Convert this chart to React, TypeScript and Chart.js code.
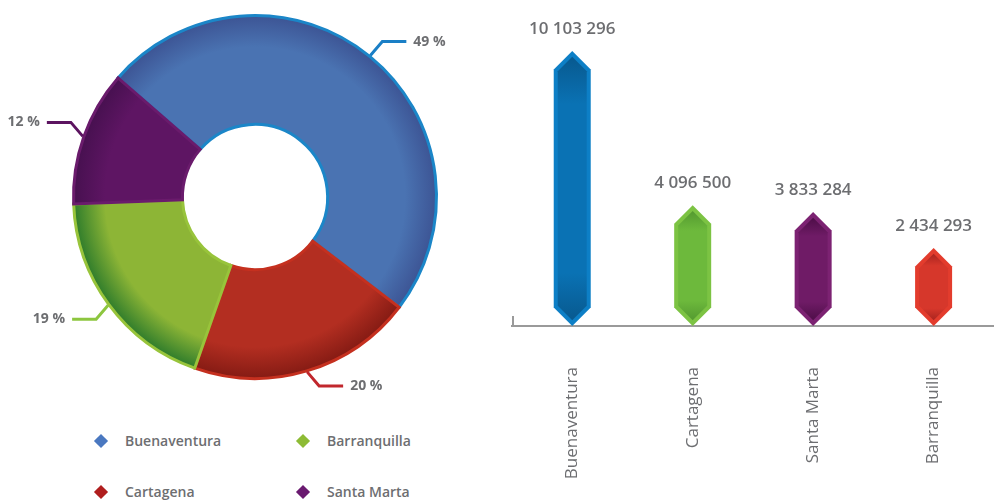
import React, { useEffect, useRef } from 'react';
import { Chart, registerables } from 'chart.js';

Chart.register(...registerables);

// ---- Donut data (share of total) ----
const shareLabels = ['Buenaventura', 'Cartagena', 'Barranquilla', 'Santa Marta'];
const shareValues = [49, 20, 19, 12];
const shareFill = ['#4a73b2', '#b32e21', '#8db536', '#5e1563'];
const shareShade = ['#3c5393', '#831a13', '#2b7a2b', '#46104f'];
const shareBorder = ['#1b86c8', '#c5301f', '#98c43b', '#6a1b6c'];
const shareLine = ['#1a7fc6', '#c1272d', '#8dc63f', '#5c1460'];

// ---- Legend (2 x 2 grid order) ----
const legendLabels = ['Buenaventura', 'Barranquilla', 'Cartagena', 'Santa Marta'];
const legendColors = ['#4a78c0', '#8dbb35', '#b01e1e', '#6a1a70'];

// ---- Bar data ----
const portLabels = ['Buenaventura', 'Cartagena', 'Santa Marta', 'Barranquilla'];
const portValues = [10103296, 4096500, 3833284, 2434293];
const portEdge = ['#0d7fc6', '#7cc343', '#7c2272', '#e33c2d'];
const portBody = ['#0a72b4', '#6db93c', '#6f1b66', '#d6372b'];
const portDark = ['#08598f', '#549a30', '#4e0e48', '#a9241f'];

const TEXT = '#6d6e71';
const FONT = "'Open Sans', 'Noto Sans', sans-serif";

const fmt = (v: number) => String(v).replace(/\B(?=(\d{3})+(?!\d))/g, ' ');

const donutLabelsPlugin = {
  id: 'donutLabels',
  afterDatasetsDraw(chart: any) {
    const ctx = chart.ctx;
    const meta = chart.getDatasetMeta(0);
    ctx.save();
    meta.data.forEach((arc: any, i: number) => {
      const p = arc.getProps(['x', 'y', 'startAngle', 'endAngle', 'outerRadius'], true);
      const mid = (p.startAngle + p.endAngle) / 2;
      const c = Math.cos(mid);
      const s = Math.sin(mid);
      const sx = c >= 0 ? 1 : -1;
      const sy = s >= 0 ? 1 : -1;
      const x0 = p.x + c * (p.outerRadius + 1);
      const y0 = p.y + s * (p.outerRadius + 1);
      const x1 = x0 + sx * 12;
      const y1 = y0 + sy * 14;
      const x2 = x1 + sx * 24;
      ctx.strokeStyle = shareLine[i];
      ctx.lineWidth = 3;
      ctx.lineJoin = 'miter';
      ctx.beginPath();
      ctx.moveTo(x0, y0);
      ctx.lineTo(x1, y1);
      ctx.lineTo(x2, y1);
      ctx.stroke();
      ctx.fillStyle = TEXT;
      ctx.font = `700 14px ${FONT}`;
      ctx.textBaseline = 'middle';
      ctx.textAlign = sx > 0 ? 'left' : 'right';
      ctx.fillText(`${shareValues[i]} %`, x2 + sx * 7, y1);
    });
    ctx.restore();
  },
};

function hexPath(ctx: CanvasRenderingContext2D, x: number, top: number, bottom: number, half: number) {
  const tip = Math.min(half, (bottom - top) / 2);
  ctx.beginPath();
  ctx.moveTo(x, top);
  ctx.lineTo(x + half, top + tip);
  ctx.lineTo(x + half, bottom - tip);
  ctx.lineTo(x, bottom);
  ctx.lineTo(x - half, bottom - tip);
  ctx.lineTo(x - half, top + tip);
  ctx.closePath();
}

const hexBarsPlugin = {
  id: 'hexBars',
  afterDatasetsDraw(chart: any) {
    const ctx = chart.ctx;
    const meta = chart.getDatasetMeta(0);
    const area = chart.chartArea;
    ctx.save();
    // small axis stub at left
    ctx.strokeStyle = '#9a9a9a';
    ctx.lineWidth = 2;
    ctx.beginPath();
    ctx.moveTo(area.left + 1, area.bottom - 10);
    ctx.lineTo(area.left + 1, area.bottom);
    ctx.stroke();
    meta.data.forEach((el: any, i: number) => {
      const p = el.getProps(['x', 'y', 'base', 'width'], true);
      const half = p.width / 2;
      const top = p.y;
      const bottom = p.base;
      hexPath(ctx, p.x, top, bottom, half);
      ctx.fillStyle = portEdge[i];
      ctx.fill();
      const inset = 4;
      const itop = top + inset * 1.41;
      const ibot = bottom - inset * 1.41;
      const g = ctx.createLinearGradient(0, itop, 0, ibot);
      g.addColorStop(0, portDark[i]);
      g.addColorStop(0.18, portBody[i]);
      g.addColorStop(0.82, portBody[i]);
      g.addColorStop(1, portDark[i]);
      hexPath(ctx, p.x, itop, ibot, half - inset);
      ctx.fillStyle = g;
      ctx.fill();
      ctx.fillStyle = TEXT;
      ctx.font = `600 17px ${FONT}`;
      ctx.textAlign = 'center';
      ctx.textBaseline = 'middle';
      ctx.fillText(fmt(portValues[i]), p.x, top - 22);
    });
    ctx.restore();
  },
};

function Donut() {
  const ref = useRef<HTMLCanvasElement>(null);
  useEffect(() => {
    const chart = new Chart(ref.current!, {
      type: 'doughnut',
      data: {
        labels: shareLabels,
        datasets: [
          {
            data: shareValues,
            backgroundColor: (c: any) => {
              const i = c.dataIndex ?? 0;
              const area = c.chart.chartArea;
              if (!area) return shareFill[i];
              const cx = (area.left + area.right) / 2;
              const cy = (area.top + area.bottom) / 2;
              const R = Math.min(area.width, area.height) / 2;
              const g = c.chart.ctx.createRadialGradient(cx, cy, R * 0.4, cx, cy, R);
              g.addColorStop(0, shareFill[i]);
              g.addColorStop(0.7, shareFill[i]);
              g.addColorStop(1, shareShade[i]);
              return g;
            },
            borderColor: shareBorder,
            borderWidth: 3,
            borderJoinStyle: 'miter',
          } as any,
        ],
      },
      options: {
        responsive: false,
        animation: false,
        rotation: -49,
        cutout: '40%',
        layout: { padding: { left: 72, top: 14, right: 62, bottom: 20 } },
        plugins: { legend: { display: false }, tooltip: { enabled: false } },
      },
      plugins: [donutLabelsPlugin],
    });
    return () => chart.destroy();
  }, []);
  return (
    <canvas
      ref={ref}
      width={500}
      height={400}
      style={{ position: 'absolute', left: 0, top: 0, width: 500, height: 400 }}
    />
  );
}

function Bars() {
  const ref = useRef<HTMLCanvasElement>(null);
  useEffect(() => {
    const chart = new Chart(ref.current!, {
      type: 'bar',
      data: {
        labels: portLabels,
        datasets: [
          {
            data: portValues,
            base: -600000,
            backgroundColor: 'rgba(0,0,0,0)',
            borderWidth: 0,
            barThickness: 37,
          } as any,
        ],
      },
      options: {
        responsive: false,
        animation: false,
        layout: { padding: { left: 12, right: 0, top: 28, bottom: 0 } },
        plugins: { legend: { display: false }, tooltip: { enabled: false } },
        scales: {
          x: {
            grid: { display: false, drawTicks: false },
            border: { display: true, color: '#9a9a9a', width: 2 },
            ticks: {
              color: TEXT,
              font: { family: FONT, size: 17 },
              minRotation: 90,
              maxRotation: 90,
              padding: 41,
              autoSkip: false,
            },
            afterFit: (scale: any) => {
              scale.height = 174;
            },
          },
          y: {
            display: false,
            min: -600000,
            max: 11000000,
          },
        },
      },
      plugins: [hexBarsPlugin],
    });
    return () => chart.destroy();
  }, []);
  return (
    <canvas
      ref={ref}
      width={495}
      height={500}
      style={{ position: 'absolute', left: 500, top: 0, width: 495, height: 500 }}
    />
  );
}

function Legend() {
  const pos = [
    { x: 101, y: 441 },
    { x: 303, y: 441 },
    { x: 101, y: 492 },
    { x: 303, y: 492 },
  ];
  return (
    <>
      {legendLabels.map((l, i) => (
        <div key={l}>
          <div
            style={{
              position: 'absolute',
              left: pos[i].x - 5,
              top: pos[i].y - 5,
              width: 10,
              height: 10,
              background: legendColors[i],
              transform: 'rotate(45deg)',
            }}
          />
          <div
            style={{
              position: 'absolute',
              left: pos[i].x + 24,
              top: pos[i].y - 10,
              height: 20,
              lineHeight: '20px',
              fontFamily: FONT,
              fontWeight: 600,
              fontSize: 14,
              color: TEXT,
              whiteSpace: 'nowrap',
            }}
          >
            {l}
          </div>
        </div>
      ))}
    </>
  );
}

export default function App() {
  return (
    <div
      style={{
        position: 'absolute',
        left: 0,
        top: 0,
        width: 995,
        height: 500,
        overflow: 'hidden',
        background: '#ffffff',
      }}
    >
      <Donut />
      <Bars />
      <Legend />
    </div>
  );
}
